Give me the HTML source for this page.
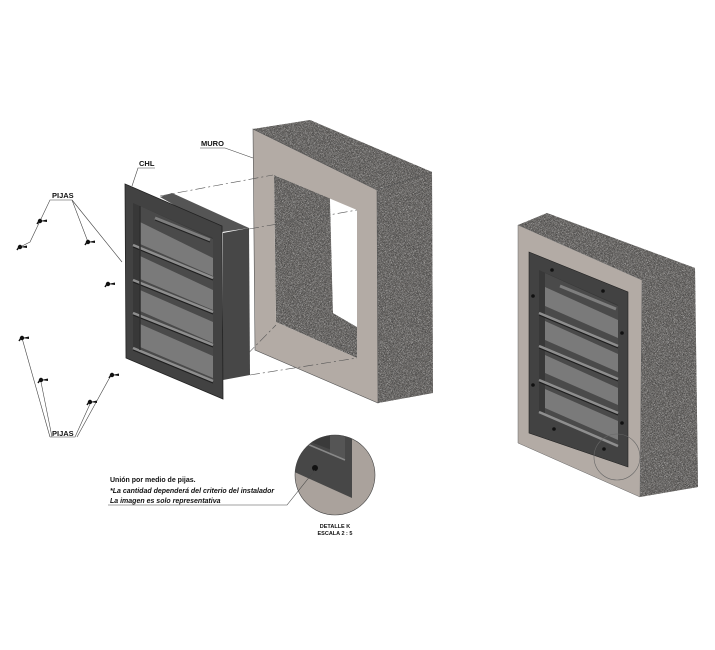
<!DOCTYPE html>
<html><head><meta charset="utf-8"><style>
html,body{margin:0;padding:0;background:#fff;width:715px;height:650px;overflow:hidden}
svg{display:block}
text{font-family:"Liberation Sans",sans-serif;font-weight:bold;fill:#111}
</style></head><body>
<svg width="715" height="650" viewBox="0 0 715 650" xmlns="http://www.w3.org/2000/svg">
<defs>
<filter id="g" x="0" y="0" width="100%" height="100%">
<feTurbulence type="fractalNoise" baseFrequency="1.1" numOctaves="2" seed="4"/>
<feColorMatrix type="matrix" values="0 0 0 0 0.06  0 0 0 0 0.06  0 0 0 0 0.06  3.2 0 0 0 -1.3"/>
<feComposite in2="SourceGraphic" operator="in"/>
</filter>
<filter id="g2" x="0" y="0" width="100%" height="100%">
<feTurbulence type="fractalNoise" baseFrequency="1.0" numOctaves="2" seed="9"/>
<feColorMatrix type="matrix" values="0 0 0 0 0.85  0 0 0 0 0.85  0 0 0 0 0.85  3 0 0 0 -1.6"/>
<feComposite in2="SourceGraphic" operator="in"/>
</filter>
<g id="scr"><circle r="2.2" fill="#111"/><path d="M0,0 l7,-1.5 l0,2.5 z" fill="#111"/><path d="M-1,0 l-2,3" stroke="#111" stroke-width="1.5"/></g>
</defs>

<g>
<polygon points="253,129 310,120 432,172 377,190" fill="#6a6764"/>
<polygon points="377,190 432,172 433,393 378,403" fill="#6a6764"/>
<polygon points="274,175 330,198 333,313 357,327 357,358 276,322" fill="#6a6764"/>
<g filter="url(#g)"><polygon points="253,129 310,120 432,172 377,190" fill="#000"/>
<polygon points="377,190 432,172 433,393 378,403" fill="#000"/>
<polygon points="274,175 330,198 333,313 357,327 357,358 276,322" fill="#000"/></g>
<g filter="url(#g2)"><polygon points="253,129 310,120 432,172 377,190" fill="#000"/>
<polygon points="377,190 432,172 433,393 378,403" fill="#000"/>
<polygon points="274,175 330,198 333,313 357,327 357,358 276,322" fill="#000"/></g>
<polygon points="330,198 357,210 357,327 333,313" fill="#fff"/>
<path d="M253,129 L377,190 L378,403 L255,350 Z M274,175 L276,322 L357,358 L357,210 Z" fill="#b3aba5" fill-rule="evenodd"/>
<path d="M253,129 L377,190 L378,403 L255,350 Z M377,190 L432,172" fill="none" stroke="#555" stroke-width="0.6"/>
</g>

<g stroke="#555" stroke-width="0.6" stroke-dasharray="10,3,2,3" fill="none">
<line x1="160" y1="196" x2="273" y2="175"/>
<line x1="249" y1="229" x2="357" y2="210"/>
<line x1="250" y1="375" x2="357" y2="358"/>
<line x1="222" y1="380" x2="276" y2="325"/>
</g>

<g>
<polygon points="160,197 172,193 249,228 222,232" fill="#555"/>
<polygon points="223,233 249,228 250,375 223,380" fill="#474747"/>
<polygon points="125,184 222,226 223,399 126,358" fill="#424242"/>
<polygon points="133,203 213,238 213,383 133,348" fill="#383838"/>
<polygon points="140,206 213,239 213,383 140,350" fill="#4a4a4a"/>
<g>
<polygon points="140,222 213,258 213,276 140,244" fill="#7a7a7a"/>
<polygon points="140,256 213,290 213,310 140,279" fill="#7a7a7a"/>
<polygon points="140,290 213,322 213,343 140,311" fill="#7a7a7a"/>
<polygon points="140,324 213,356 213,378 140,347" fill="#7a7a7a"/>
<g stroke="#8e8e8e" stroke-width="2.5">
<line x1="133" y1="245" x2="213" y2="278"/>
<line x1="133" y1="280" x2="213" y2="312"/>
<line x1="133" y1="313" x2="213" y2="345"/>
<line x1="133" y1="348" x2="213" y2="381"/>
</g>
<g stroke="#1e1e1e" stroke-width="1">
<line x1="133" y1="247" x2="213" y2="280"/>
<line x1="133" y1="282" x2="213" y2="314"/>
<line x1="133" y1="315" x2="213" y2="347"/>
<line x1="133" y1="350" x2="213" y2="383"/>
</g>
<line x1="155" y1="218" x2="210" y2="240" stroke="#7e7e7e" stroke-width="3"/>
<line x1="155" y1="220" x2="210" y2="242" stroke="#222" stroke-width="1"/>
<line x1="140" y1="206" x2="140" y2="350" stroke="#2e2e2e" stroke-width="1.5"/>
</g>
<polygon points="125,184 222,226 223,399 126,358" fill="none" stroke="#222" stroke-width="0.8"/>
</g>

<g>
<polygon points="518,225 547,213 695,268 642,280" fill="#6a6764"/>
<polygon points="642,280 695,268 698,487 640,497" fill="#6a6764"/>
<g filter="url(#g)"><polygon points="518,225 547,213 695,268 642,280" fill="#000"/><polygon points="642,280 695,268 698,487 640,497" fill="#000"/></g>
<g filter="url(#g2)"><polygon points="518,225 547,213 695,268 642,280" fill="#000"/><polygon points="642,280 695,268 698,487 640,497" fill="#000"/></g>
<polygon points="518,225 642,280 640,497 518,443" fill="#b3aba5" stroke="#666" stroke-width="0.5"/>
<polygon points="529,252 628,292 628,467 529,433" fill="#424242" stroke="#222" stroke-width="0.6"/>
<polygon points="539,270 618,305 618,448 539,413" fill="#383838"/>
<polygon points="545,273 618,306 618,448 545,416" fill="#4a4a4a"/>
<polygon points="545,287 618,320 618,338 545,306" fill="#7a7a7a"/>
<polygon points="545,321 618,354 618,372 545,340" fill="#7a7a7a"/>
<polygon points="545,355 618,388 618,405 545,373" fill="#7a7a7a"/>
<polygon points="545,389 618,421 618,440 545,408" fill="#7a7a7a"/>
<g stroke="#8e8e8e" stroke-width="2.5">
<line x1="539" y1="313" x2="618" y2="346"/>
<line x1="539" y1="346" x2="618" y2="379"/>
<line x1="539" y1="380" x2="618" y2="413"/>
<line x1="539" y1="412" x2="618" y2="446"/>
</g>
<g stroke="#1e1e1e" stroke-width="1">
<line x1="539" y1="315" x2="618" y2="348"/>
<line x1="539" y1="348" x2="618" y2="381"/>
<line x1="539" y1="382" x2="618" y2="415"/>
</g>
<line x1="560" y1="286" x2="616" y2="309" stroke="#7e7e7e" stroke-width="3"/>
<g fill="#111">
<circle cx="552" cy="270" r="1.8"/><circle cx="603" cy="291" r="1.8"/>
<circle cx="533" cy="296" r="1.8"/><circle cx="622" cy="333" r="1.8"/>
<circle cx="533" cy="385" r="1.8"/><circle cx="622" cy="423" r="1.8"/>
<circle cx="554" cy="429" r="1.8"/><circle cx="604" cy="449" r="1.8"/>
</g>
<circle cx="617" cy="457" r="23" fill="none" stroke="#666" stroke-width="0.6"/>
</g>

<clipPath id="dc"><circle cx="335" cy="475" r="40"/></clipPath>
<g clip-path="url(#dc)">
<rect x="290" y="430" width="90" height="90" fill="#aaa29c"/>
<polygon points="290,430 352,430 352,498 290,470" fill="#474747"/>
<polygon points="300,430 345,430 345,455 300,438" fill="#3a3a3a"/>
<polygon points="330,430 345,430 345,460 330,455" fill="#555"/>
<line x1="300" y1="441" x2="345" y2="460" stroke="#888" stroke-width="1.5"/>
<circle cx="315" cy="468" r="3" fill="#111"/>
</g>
<circle cx="335" cy="475" r="40" fill="none" stroke="#444" stroke-width="0.6"/>

<g stroke="#444" stroke-width="0.6" fill="none">
<polyline points="200,148 225,148 253,158"/>
<polyline points="155,168 138,168 132,186"/>
<polyline points="40,221 50,200 72,200 88,242"/>
<line x1="72" y1="200" x2="122" y2="262"/>
<polyline points="40,221 30,242 20,247"/>
<line x1="50" y1="437" x2="22" y2="338"/>
<line x1="52" y1="437" x2="41" y2="382"/>
<polyline points="90,404 75,437 50,437"/>
<line x1="77" y1="437" x2="110" y2="377"/>
<polyline points="108,505 287,505 315,470"/>
</g>
<text x="201" y="146" font-size="7.5">MURO</text>
<text x="139" y="166" font-size="7.5">CHL</text>
<text x="52" y="198" font-size="7.5">PIJAS</text>
<text x="52" y="436" font-size="7.5">PIJAS</text>
<use href="#scr" x="40" y="221"/>
<use href="#scr" x="20" y="247"/>
<use href="#scr" x="88" y="242"/>
<use href="#scr" x="108" y="284"/>
<use href="#scr" x="22" y="338"/>
<use href="#scr" x="41" y="380"/>
<use href="#scr" x="90" y="402"/>
<use href="#scr" x="112" y="375"/>

<text x="110" y="482" font-size="7">Unión por medio de pijas.</text>
<text x="110" y="493" font-size="7" font-style="italic">*La cantidad dependerá del criterio del instalador</text>
<text x="110" y="503" font-size="7" font-style="italic">La imagen es solo representativa</text>
<text x="335" y="528" font-size="5.5" font-weight="normal" text-anchor="middle">DETALLE K</text>
<text x="335" y="535" font-size="5.5" font-weight="normal" text-anchor="middle">ESCALA 2 : 5</text>
</svg>
</body></html>
